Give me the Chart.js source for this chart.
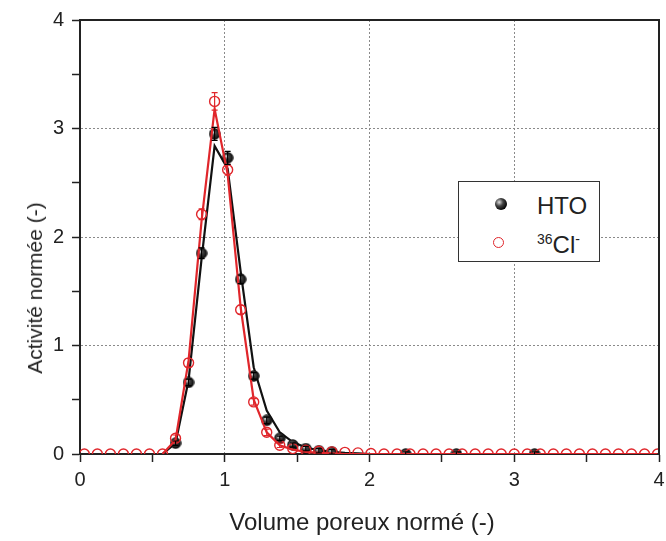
<!DOCTYPE html>
<html lang="fr">
<head>
<meta charset="utf-8">
<title>Activité normée</title>
<script src="https://cdn.jsdelivr.net/npm/chart.js@4.4.1/dist/chart.umd.min.js"></script>
<style>
  body { margin: 0; background: #fff; font-family: "Liberation Sans", Arial, sans-serif; color: #222; }
  #wrap { position: relative; width: 666px; height: 541px; }
  #chart { position: absolute; left: 0; top: 0; }
  .title { position: absolute; white-space: nowrap; transform: translate(-50%, -50%); }
  #ytitle { left: 35px; top: 288px; font-size: 21px; transform: translate(-50%, -50%) rotate(-90deg); }
  #xtitle { left: 362px; top: 522px; font-size: 24px; }
  #legend { position: absolute; left: 458px; top: 181px; width: 140px; height: 79px;
            border: 1.5px solid #333; background: #fff; }
  #legend .mk { position: absolute; border-radius: 50%; box-sizing: border-box; }
  #legend .lab { position: absolute; left: 78px; font-size: 24px; line-height: 24px; }
  #legend sup { font-size: 14px; line-height: 0; vertical-align: 9px; }
</style>
</head>
<body>
<div id="wrap">
  <canvas id="chart" width="666" height="541"></canvas>
  <div class="title" id="ytitle">Activité normée (-)</div>
  <div class="title" id="xtitle">Volume poreux normé (-)</div>
  <div id="legend">
    <div class="mk" style="left:36px;top:16px;width:12px;height:12px;background:radial-gradient(circle at 35% 35%, #ddd 0, #444 35%, #000 75%);"></div>
    <div class="lab" style="top:12px;">HTO</div>
    <div class="mk" style="left:34px;top:55px;width:11px;height:11px;border:1.5px solid #e0262b;"></div>
    <div class="lab" style="top:51px;"><sup>36</sup>Cl<sup>-</sup></div>
  </div>
</div>
<script>
// volume poreux normé des prélèvements 36Cl-
const vol = [0.03, 0.12, 0.21, 0.30, 0.39, 0.48, 0.57, 0.66, 0.75, 0.84,
             0.93, 1.02, 1.11, 1.20, 1.29, 1.38, 1.47, 1.56, 1.65, 1.74,
             1.83, 1.92, 2.01, 2.10, 2.19, 2.28, 2.37, 2.46, 2.55, 2.64,
             2.73, 2.82, 2.91, 3.00, 3.09, 3.18, 3.27, 3.36, 3.45, 3.54,
             3.63, 3.72, 3.81, 3.90, 3.99]
const cl = [0, 0, 0, 0, 0, 0, 0, 0.145, 0.84, 2.21,
            3.25, 2.62, 1.33, 0.48, 0.20, 0.08, 0.05, 0.035, 0.025, 0.02,
            0.015, 0.01, 0.005, 0, 0, 0, 0, 0, 0, 0,
            0, 0, 0, 0, 0, 0, 0, 0, 0, 0,
            0, 0, 0, 0, 0]
const clErr = [0, 0, 0, 0, 0, 0, 0, 0.03, 0.04, 0.05,
               0.08, 0.05, 0.04, 0.03, 0.03, 0.02, 0, 0, 0, 0]

// HTO
const htoVol = [0.66, 0.75, 0.84, 0.93, 1.02, 1.11, 1.20, 1.29, 1.38, 1.47,
                1.56, 1.65, 1.74, 2.25, 2.60, 3.14]
const hto = [0.10, 0.66, 1.85, 2.95, 2.73, 1.61, 0.72, 0.31, 0.145, 0.083,
             0.05, 0.03, 0.02, 0, 0, 0]
const htoErr = [0.02, 0.03, 0.05, 0.06, 0.06, 0.04, 0.03, 0.03, 0.02, 0.02,
                0.02, 0.02, 0.02, 0.02, 0.02, 0.02]

// courbes modélisées (même pas de volume que vol)
const htoModel = [null, null, null, null, null, null, 0, 0.10, 0.68, 1.80,
                  2.84, 2.63, 1.68, 0.80, 0.40, 0.20, 0.11, 0.06, 0.035, 0.02,
                  0.01, 0.005, 0, 0, 0, 0, 0, 0, 0, 0,
                  0, 0, 0, 0, 0, 0, 0, 0, 0, 0,
                  0, 0, 0, 0, 0]
const clModel = [null, null, null, null, null, null, 0, 0.13, 0.86, 2.15,
                 3.18, 2.58, 1.35, 0.50, 0.20, 0.08, 0.04, 0.02, 0.01, 0.005,
                 0, 0, 0, 0, 0, 0, 0, 0, 0, 0,
                 0, 0, 0, 0, 0, 0, 0, 0, 0, 0,
                 0, 0, 0, 0, 0]

const xTicks = [0, 1, 2, 3, 4]
const yTicks = [0, 1, 2, 3, 4]

const red = "#e0262b"
const black = "#111"

function pts(xs, ys) {
    return xs.map((x, i) => ({x: x, y: ys[i]}))
}

// petite bille noire
function sphere(r) {
    let c = document.createElement("canvas")
    c.width = c.height = r * 2
    let g = c.getContext("2d")
    let grad = g.createRadialGradient(r * 0.7, r * 0.7, 0.3, r, r, r)
    grad.addColorStop(0, "#e0e0e0")
    grad.addColorStop(0.35, "#444")
    grad.addColorStop(1, "#000")
    g.fillStyle = grad
    g.beginPath()
    g.arc(r, r, r - 0.3, 0, Math.PI * 2)
    g.fill()
    return c
}

const errorBars = {
    id: "errorBars",
    afterDatasetsDraw(chart) {
        let ctx = chart.ctx
        let x = chart.scales.x, y = chart.scales.y
        let a = chart.chartArea
        ctx.save()
        ctx.beginPath()
        ctx.rect(a.left, a.top, a.right - a.left, a.bottom - a.top)
        ctx.clip()
        chart.data.datasets.forEach(ds => {
            if (!ds.errors) return
            ctx.strokeStyle = ds.errColor
            ctx.lineWidth = 1.2
            ds.data.forEach((p, j) => {
                let e = ds.errors[j]
                if (!e) return
                let px = x.getPixelForValue(p.x)
                let top = y.getPixelForValue(p.y + e)
                let bot = y.getPixelForValue(p.y - e)
                ctx.beginPath()
                ctx.moveTo(px, top); ctx.lineTo(px, bot)
                ctx.moveTo(px - 3, top); ctx.lineTo(px + 3, top)
                ctx.moveTo(px - 3, bot); ctx.lineTo(px + 3, bot)
                ctx.stroke()
            })
        })
        ctx.restore()
    }
}

const frame = {
    id: "frame",
    afterDraw(chart) {
        let a = chart.chartArea, ctx = chart.ctx
        ctx.save()
        ctx.strokeStyle = "#222"
        ctx.lineWidth = 2
        ctx.beginPath()
        ctx.moveTo(a.left, a.top); ctx.lineTo(a.right, a.top); ctx.lineTo(a.right, a.bottom)
        ctx.stroke()
        ctx.restore()
    }
}

function gridColor(ticks) {
    return c => {
        let v = c.tick && c.tick.value
        if (v === undefined) return "rgba(0,0,0,0)"
        if (ticks.includes(v) && v !== ticks[0] && v !== ticks[ticks.length - 1]) return "#8a8a8a"
        return "rgba(0,0,0,0)"
    }
}

const tickFont = {family: "'Liberation Sans', Arial, sans-serif", size: 20}

let chart = new Chart("chart", {
    type: "scatter",
    data: {
        datasets: [
            {
                label: "36Cl- modèle",
                type: "line",
                data: pts(vol, clModel),
                borderColor: red,
                borderWidth: 2.2,
                pointRadius: 0,
                fill: false,
                clip: 0,
                order: 0
            },
            {
                label: "36Cl-",
                data: pts(vol, cl),
                errors: clErr,
                errColor: red,
                pointStyle: "circle",
                pointRadius: 5,
                pointBorderWidth: 1.4,
                borderColor: red,
                backgroundColor: "rgba(0,0,0,0)",
                clip: 0,
                order: 1
            },
            {
                label: "HTO",
                data: pts(htoVol, hto),
                errors: htoErr,
                errColor: "#000",
                pointStyle: sphere(6),
                pointRadius: 6,
                borderColor: "#000",
                backgroundColor: "#000",
                clip: 0,
                order: 2
            },
            {
                label: "HTO modèle",
                type: "line",
                data: pts(vol, htoModel),
                borderColor: black,
                borderWidth: 2.2,
                pointRadius: 0,
                fill: false,
                clip: 0,
                order: 3
            }
        ]
    },
    options: {
        responsive: false,
        animation: false,
        layout: {padding: {top: 20, right: 0, left: 0, bottom: 0}},
        plugins: {legend: {display: false}, tooltip: {enabled: false}},
        scales: {
            x: {
                type: "linear",
                min: 0,
                max: 4,
                afterFit(s) {
                    s.height = 87
                    s.paddingRight = 5
                },
                ticks: {
                    stepSize: 0.5,
                    autoSkip: false,
                    maxRotation: 0,
                    padding: 6,
                    color: "#222",
                    font: tickFont,
                    callback: v => xTicks.includes(v) ? v : ""
                },
                grid: {
                    color: gridColor(xTicks),
                    lineWidth: 1,
                    tickColor: "#222",
                    tickLength: 8,
                    tickWidth: 1.5
                },
                border: {color: "#222", width: 2, dash: [2, 2]}
            },
            y: {
                min: 0,
                max: 4,
                afterFit(s) { s.width = 80 },
                ticks: {
                    stepSize: 0.5,
                    autoSkip: false,
                    padding: 8,
                    color: "#222",
                    font: tickFont,
                    callback: v => yTicks.includes(v) ? v : ""
                },
                grid: {
                    color: gridColor(yTicks),
                    lineWidth: 1,
                    tickColor: "#222",
                    tickLength: 8,
                    tickWidth: 1.5
                },
                border: {color: "#222", width: 2, dash: [2, 2]}
            }
        }
    },
    plugins: [errorBars, frame]
})
</script>
</body>
</html>
